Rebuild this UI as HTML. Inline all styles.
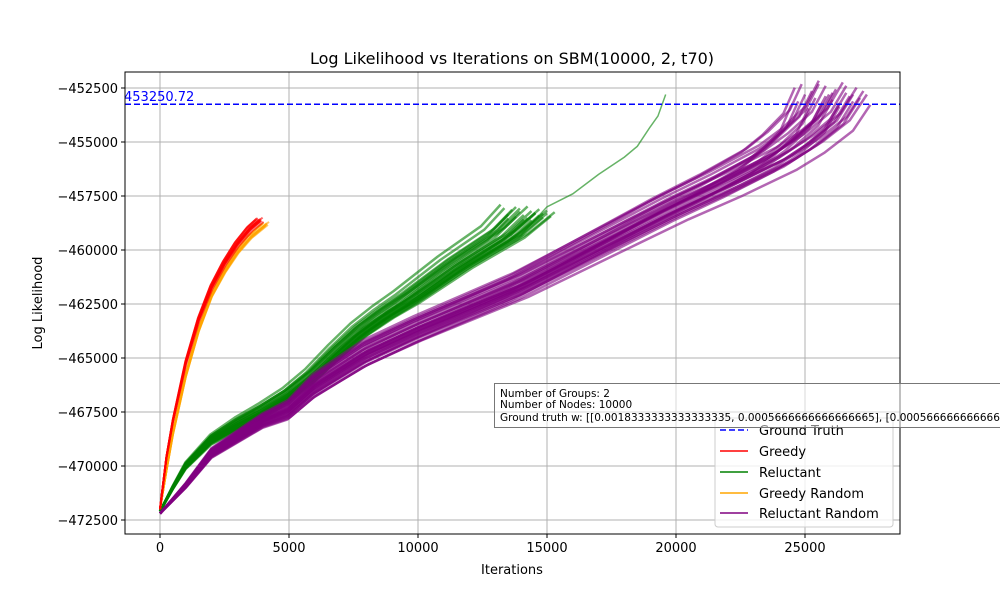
<!DOCTYPE html>
<html><head><meta charset="utf-8"><style>
body{margin:0;background:#fff;font-family:"DejaVu Sans","Liberation Sans",sans-serif}
</style></head><body>
<svg id="chart" width="1000" height="600" xmlns="http://www.w3.org/2000/svg" font-family="DejaVu Sans, Liberation Sans, sans-serif">
<rect width="1000" height="600" fill="#fff"/>
<g id="grid"></g>
<g id="series"></g>
<g id="axes"></g>
</svg>
<script>
const xTicks=[0,5000,10000,15000,20000,25000];
const yTicks=[-452500,-455000,-457500,-460000,-462500,-465000,-467500,-470000,-472500];
const groundTruth=-453250.72;
const greedyX=[0,250,500,1000,1500,2000,2500,3000,3500,3900];
const greedyY=[-472000,-469600,-467900,-465200,-463200,-461700,-460600,-459700,-459000,-458600];
const greedyRandX=[0,250,500,1000,1500,2000,2500,3000,3500,4100];
const greedyRandY=[-472000,-470200,-468500,-465800,-463700,-462100,-461000,-460100,-459400,-458800];
const relX=[0,500,1000,2000,3000,4000,5000,6000,7000,8000,9000,10000,12000,14000,15000];
const relY=[-472100,-471000,-470000,-468800,-468100,-467500,-466800,-465900,-464800,-463800,-463000,-462300,-460700,-459300,-458300];
const relOutX=[15000,16000,17000,18000,18500,19000,19300,19600];
const relOutY=[-458000,-457400,-456500,-455700,-455200,-454300,-453800,-452800];
const rrX=[0,1000,2000,4000,5000,6000,8000,10000,12000,14000,16000,18000,20000,22000,24000,25000,26000,26600];
const rrY=[-472200,-470900,-469400,-467900,-467400,-466300,-464800,-463700,-462700,-461700,-460500,-459300,-458100,-457000,-455800,-455000,-454000,-452800];
const greedyStretch=[0.95,0.97,0.99,1.0,1.01,1.02,1.03,0.98,1.0,0.96,1.0,0.99];
const greedyDy=[0,80,-80,40,-40,100,-100,20,-20,60,-60,0];
const greedyRandStretch=[0.96,0.98,1.0,1.01,1.02,1.03,0.99,0.97,1.0,1.01];
const greedyRandDy=[0,70,-70,40,-40,100,-100,20,-20,0];
const relStretch=[0.88,0.89,0.9,0.91,0.92,0.93,0.94,0.95,0.96,0.97,0.98,0.99,1.0,1.01,1.02,0.9,0.92,0.94,0.96,0.98,1.0,0.93,0.95,0.97,0.99];
const relDy=[400,240,-240,160,-160,80,-80,320,-320,0,190,-190,130,-130,50,-50,290,-290,100,-100,0,220,-220,20,-20];
const rrStretch=[0.92,0.925,0.93,0.935,0.94,0.945,0.95,0.955,0.96,0.965,0.97,0.975,0.98,0.985,0.99,0.995,1.0,1.005,1.01,1.015,1.02,1.025,1.03,1.035,0.96,0.97,0.98,0.99,1.0,1.01];
const rrDy=[-480,320,-320,480,0,-640,160,-160,640,-400,400,0,-240,240,-560,560,80,-80,-320,320,-160,160,0,-480,480,-80,80,-400,400,0];

const NS="http://www.w3.org/2000/svg";
const X=v=>160+v*0.0258, Y=v=>88+(-452500-v)*0.0216;
const L=125,R=900,T=72,B=534;
function el(t,a,p){const e=document.createElementNS(NS,t);for(const k in a)e.setAttribute(k,a[k]);p.appendChild(e);return e;}
const grid=document.getElementById('grid'),ser=document.getElementById('series'),ax=document.getElementById('axes');
const fmt=v=>(v<0?'−':'')+Math.abs(v);
xTicks.forEach(v=>{
 const g=el('line',{x1:X(v),x2:X(v),y1:T,y2:B,stroke:'#b0b0b0','stroke-width':1},grid);
 
 
 el('line',{x1:X(v),x2:X(v),y1:B,y2:B+4,stroke:'#000'},ax);
 const t=el('text',{x:X(v),y:B+18,'text-anchor':'middle','font-size':13},ax);t.textContent=v;
 
 
});
yTicks.forEach(v=>{
 const g=el('line',{x1:L,x2:R,y1:Y(v),y2:Y(v),stroke:'#b0b0b0','stroke-width':1},grid);
 
 
 el('line',{x1:L-4,x2:L,y1:Y(v),y2:Y(v),stroke:'#000'},ax);
 const t=el('text',{x:L-7,y:Y(v)+5,'text-anchor':'end','font-size':13},ax);t.textContent=fmt(v);
 
 
});
function pts(xs,ys,s,dy){return xs.map((x,i)=>{const f=i/(xs.length-1);const sx=1+(s-1)*f;return X(x*sx).toFixed(1)+','+Y(ys[i]+dy*Math.min(1,f*3)).toFixed(1);}).join(' ');}
function draw(xs,ys,S,D,color,name,w){S.forEach((s,i)=>{const p=el('polyline',{points:pts(xs,ys,s,D[i]),fill:'none',stroke:color,'stroke-width':w,'stroke-opacity':0.6,'stroke-linejoin':'round'},ser);
 
 });}
draw(relX,relY,relStretch,relDy,'green','reluctant-line',2.5);
const o=el('polyline',{points:relX.slice(0,-1).concat(relOutX).map((x,i)=>X(x)+','+Y((relY.slice(0,-1).concat(relOutY))[i])).join(' '),fill:'none',stroke:'green','stroke-width':1.5,'stroke-opacity':0.6},ser);


draw(rrX,rrY,rrStretch,rrDy,'purple','reluctant-random-line',2.5);
draw(greedyRandX,greedyRandY,greedyRandStretch,greedyRandDy,'orange','greedy-random-line',2);
draw(greedyX,greedyY,greedyStretch,greedyDy,'red','greedy-line',2);
const gt=el('line',{x1:L,x2:R,y1:Y(groundTruth),y2:Y(groundTruth),stroke:'blue','stroke-width':1.5,'stroke-dasharray':'6,3'},ser);


const gl=el('text',{x:L-1,y:Y(groundTruth)-3,fill:'blue','font-size':13},ser);
gl.textContent='453250.72';


</script>
<svg style="position:absolute;left:0;top:0" width="1000" height="600" xmlns="http://www.w3.org/2000/svg" font-family="DejaVu Sans, Liberation Sans, sans-serif">
<rect x="125" y="72" width="775" height="462" fill="none" stroke="#000"/>
<text x="512" y="64" text-anchor="middle" font-size="16">Log Likelihood vs Iterations on SBM(10000, 2, t70)</text>
<text x="512" y="574" text-anchor="middle" font-size="13">Iterations</text>
<text x="42" y="303" text-anchor="middle" font-size="13" transform="rotate(-90 42 303)">Log Likelihood</text>
<g>
<rect x="715" y="418" width="178" height="109" rx="3" fill="#fff" fill-opacity="0.8" stroke="#ccc"/>
<line x1="720" x2="748" y1="430" y2="430" stroke="blue" stroke-width="1.5" stroke-dasharray="6,3"/><text x="759" y="435" font-size="13">Ground Truth</text>
<line x1="720" x2="748" y1="451" y2="451" stroke="red" stroke-width="1.5"/><text x="759" y="456" font-size="13">Greedy</text>
<line x1="720" x2="748" y1="472" y2="472" stroke="green" stroke-width="1.5"/><text x="759" y="477" font-size="13">Reluctant</text>
<line x1="720" x2="748" y1="493" y2="493" stroke="orange" stroke-width="1.5"/><text x="759" y="498" font-size="13">Greedy Random</text>
<line x1="720" x2="748" y1="513" y2="513" stroke="purple" stroke-width="1.5"/><text x="759" y="518" font-size="13">Reluctant Random</text>
</g>
<g>
<rect x="494.5" y="383.5" width="520" height="44" fill="#fff" fill-opacity="0.5" stroke="#777"/>
<text x="500" y="397" font-size="10.5">Number of Groups: 2</text>
<text x="500" y="408" font-size="10.5">Number of Nodes: 10000</text>
<text x="500" y="421" font-size="10.5">Ground truth w: [[0.0018333333333333335, 0.0005666666666666665], [0.0005666666666666665, 0.0018333333333333335]]</text>
</g>
</svg>
</body></html>
